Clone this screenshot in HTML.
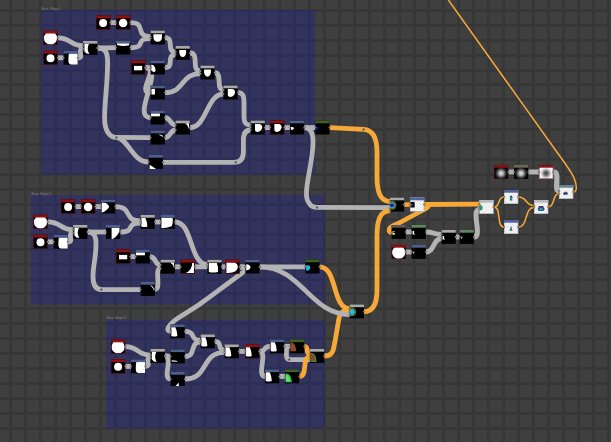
<!DOCTYPE html>
<html><head><meta charset="utf-8"><title>Graph</title>
<style>html,body{margin:0;padding:0;background:#3f3f3f;overflow:hidden}svg{display:block}text{font-family:"Liberation Sans",sans-serif}</style></head>
<body>
<svg width="611" height="442" viewBox="0 0 611 442">
<defs>
<pattern id="grid" width="14.925" height="14.925" patternUnits="userSpaceOnUse" x="9.7" y="8.9"><rect width="14.925" height="14.925" fill="#3f3f3f"/><rect width="2.7" height="14.925" fill="#373737"/><rect width="14.925" height="2.7" fill="#373737"/></pattern>
<radialGradient id="rg1" cx="0.5" cy="0.5" r="0.5"><stop offset="0" stop-color="#e6e6e6"/><stop offset="0.3" stop-color="#b4b4b4"/><stop offset="0.6" stop-color="#4a4a4a"/><stop offset="0.85" stop-color="#0c0c0c"/><stop offset="1" stop-color="#000"/></radialGradient>
<radialGradient id="rg2" cx="0.5" cy="0.5" r="0.5"><stop offset="0" stop-color="#3a3a3a"/><stop offset="0.3" stop-color="#6e6e6e"/><stop offset="0.6" stop-color="#c8c8c8"/><stop offset="0.85" stop-color="#f6f6f6"/><stop offset="1" stop-color="#fff"/></radialGradient>
<pattern id="chk" width="3" height="3" patternUnits="userSpaceOnUse"><rect width="3" height="3" fill="#fdfdfd"/><rect width="1.5" height="1.5" fill="#e2e2e2"/><rect x="1.5" y="1.5" width="1.5" height="1.5" fill="#e2e2e2"/></pattern>
</defs>
<rect width="611" height="442" fill="#3f3f3f"/>
<g fill="#373737" shape-rendering="crispEdges"><rect x="-6" y="0" width="3" height="442"/><rect x="9" y="0" width="3" height="442"/><rect x="24" y="0" width="3" height="442"/><rect x="39" y="0" width="3" height="442"/><rect x="54" y="0" width="3" height="442"/><rect x="69" y="0" width="3" height="442"/><rect x="84" y="0" width="3" height="442"/><rect x="99" y="0" width="3" height="442"/><rect x="114" y="0" width="3" height="442"/><rect x="129" y="0" width="3" height="442"/><rect x="144" y="0" width="3" height="442"/><rect x="159" y="0" width="3" height="442"/><rect x="174" y="0" width="3" height="442"/><rect x="189" y="0" width="3" height="442"/><rect x="203" y="0" width="3" height="442"/><rect x="218" y="0" width="3" height="442"/><rect x="233" y="0" width="3" height="442"/><rect x="248" y="0" width="3" height="442"/><rect x="263" y="0" width="3" height="442"/><rect x="278" y="0" width="3" height="442"/><rect x="293" y="0" width="3" height="442"/><rect x="308" y="0" width="3" height="442"/><rect x="323" y="0" width="3" height="442"/><rect x="338" y="0" width="3" height="442"/><rect x="353" y="0" width="3" height="442"/><rect x="368" y="0" width="3" height="442"/><rect x="383" y="0" width="3" height="442"/><rect x="398" y="0" width="3" height="442"/><rect x="413" y="0" width="3" height="442"/><rect x="427" y="0" width="3" height="442"/><rect x="442" y="0" width="3" height="442"/><rect x="457" y="0" width="3" height="442"/><rect x="472" y="0" width="3" height="442"/><rect x="487" y="0" width="3" height="442"/><rect x="502" y="0" width="3" height="442"/><rect x="517" y="0" width="3" height="442"/><rect x="532" y="0" width="3" height="442"/><rect x="547" y="0" width="3" height="442"/><rect x="562" y="0" width="3" height="442"/><rect x="577" y="0" width="3" height="442"/><rect x="592" y="0" width="3" height="442"/><rect x="607" y="0" width="3" height="442"/><rect x="0" y="-6" width="611" height="3"/><rect x="0" y="9" width="611" height="3"/><rect x="0" y="24" width="611" height="3"/><rect x="0" y="39" width="611" height="3"/><rect x="0" y="54" width="611" height="3"/><rect x="0" y="69" width="611" height="3"/><rect x="0" y="83" width="611" height="3"/><rect x="0" y="98" width="611" height="3"/><rect x="0" y="113" width="611" height="3"/><rect x="0" y="128" width="611" height="3"/><rect x="0" y="143" width="611" height="3"/><rect x="0" y="158" width="611" height="3"/><rect x="0" y="173" width="611" height="3"/><rect x="0" y="188" width="611" height="3"/><rect x="0" y="203" width="611" height="3"/><rect x="0" y="218" width="611" height="3"/><rect x="0" y="233" width="611" height="3"/><rect x="0" y="248" width="611" height="3"/><rect x="0" y="263" width="611" height="3"/><rect x="0" y="278" width="611" height="3"/><rect x="0" y="292" width="611" height="3"/><rect x="0" y="307" width="611" height="3"/><rect x="0" y="322" width="611" height="3"/><rect x="0" y="337" width="611" height="3"/><rect x="0" y="352" width="611" height="3"/><rect x="0" y="367" width="611" height="3"/><rect x="0" y="382" width="611" height="3"/><rect x="0" y="397" width="611" height="3"/><rect x="0" y="412" width="611" height="3"/><rect x="0" y="427" width="611" height="3"/><rect x="0" y="442" width="611" height="3"/></g>
<rect x="41" y="10" width="274.4" height="164.7" fill="#1a1e9e" fill-opacity="0.33"/>
<text x="41.5" y="9.8" font-size="3.0" fill="#868686" font-family="Liberation Sans, sans-serif">Basic Shape 1</text>
<rect x="31" y="195" width="294.0" height="109.4" fill="#1a1e9e" fill-opacity="0.33"/>
<text x="31.5" y="194.8" font-size="3.0" fill="#868686" font-family="Liberation Sans, sans-serif">Basic Shape 2</text>
<rect x="106" y="319.4" width="219.0" height="109.2" fill="#1a1e9e" fill-opacity="0.33"/>
<text x="106.5" y="319.2" font-size="3.0" fill="#868686" font-family="Liberation Sans, sans-serif">Basic Shape 3</text>
<g fill="none" stroke-linecap="butt" stroke-linejoin="round">
<path d="M57.8 37.8 C71.8 37.8 69.2 45.8 83.2 45.8" stroke="#b3b3b3" stroke-width="4.8"/>
<path d="M57.8 57.8 C60.8 57.8 60.6 57.8 63.6 57.8" stroke="#b3b3b3" stroke-width="4.8"/>
<path d="M78.0 57.8 C85.0 57.8 76.2 49.0 83.2 49.0" stroke="#b3b3b3" stroke-width="4.8"/>
<path d="M97.6 48.0 C106.8 48.0 106.8 47.6 116.0 47.6" stroke="#b3b3b3" stroke-width="4.8"/>
<path d="M97.6 48 C105 48 107.6 52 107.6 62 C107.6 85 104.6 100 104.6 118 C104.6 130 109 137.4 116.4 137.4 L150.6 137.6" stroke="#b3b3b3" stroke-width="4.8"/>
<path d="M116.4 137.6 C128 137.6 132 162 148.6 162" stroke="#b3b3b3" stroke-width="4.8"/>
<path d="M110.4 22.6 C113.4 22.6 113.0 22.6 116.0 22.6" stroke="#b3b3b3" stroke-width="4.8"/>
<path d="M130.4 22.6 C147.4 22.6 133.6 36.4 150.6 36.4" stroke="#b3b3b3" stroke-width="4.8"/>
<path d="M130.4 47.6 C147.4 47.6 133.6 38.6 150.6 38.6" stroke="#b3b3b3" stroke-width="4.8"/>
<path d="M145.4 67.6 C148.4 67.6 147.6 67.6 150.6 67.6" stroke="#b3b3b3" stroke-width="4.8"/>
<path d="M145.4 67.6 C160.4 67.6 135.6 92.6 150.6 92.6" stroke="#b3b3b3" stroke-width="4.8"/>
<path d="M145.4 67.6 C165.4 67.6 130.6 117.6 150.6 117.6" stroke="#b3b3b3" stroke-width="4.8"/>
<path d="M165.0 37.6 C175.0 37.6 165.6 52.0 175.6 52.0" stroke="#b3b3b3" stroke-width="4.8"/>
<path d="M165.0 67.6 C175.0 67.6 165.6 54.6 175.6 54.6" stroke="#b3b3b3" stroke-width="4.8"/>
<path d="M190.0 53.0 C200.0 53.0 190.4 71.0 200.4 71.0" stroke="#b3b3b3" stroke-width="4.8"/>
<path d="M165.0 92.6 C185.0 92.6 180.4 73.6 200.4 73.6" stroke="#b3b3b3" stroke-width="4.8"/>
<path d="M214.8 72.6 C222.8 72.6 215.4 90.0 223.4 90.0" stroke="#b3b3b3" stroke-width="4.8"/>
<path d="M190.0 127.6 C206.7 127.6 206.7 94.0 223.4 94.0" stroke="#b3b3b3" stroke-width="4.8"/>
<path d="M165.0 117.6 C171.0 117.6 169.6 125.0 175.6 125.0" stroke="#b3b3b3" stroke-width="4.8"/>
<path d="M165.0 137.6 C171.0 137.6 169.6 130.0 175.6 130.0" stroke="#b3b3b3" stroke-width="4.8"/>
<path d="M238 92.6 C243 92.6 244 96 244 103 L244 117 C244 123 246 125 250.6 125" stroke="#b3b3b3" stroke-width="4.8"/>
<path d="M163 162.3 L234 162.3 C240.5 162.3 243.4 159 243.4 152 L243.4 140 C243.4 133 246 130 250.6 130" stroke="#b3b3b3" stroke-width="4.8"/>
<path d="M265.0 127.6 C268.0 127.6 267.0 127.6 270.0 127.6" stroke="#b3b3b3" stroke-width="4.8"/>
<path d="M284.4 127.6 C287.4 127.6 287.0 127.6 290.0 127.6" stroke="#b3b3b3" stroke-width="4.8"/>
<path d="M304.4 127.6 C309.9 127.6 309.9 127.6 315.4 127.6" stroke="#b3b3b3" stroke-width="4.8"/>
<path d="M304.4 127.6 C314 127.6 314 140 312 155 C309 178 303 196 309 203 C311 206.4 314 207.4 317 207.4 L390 207.6" stroke="#b3b3b3" stroke-width="4.8"/>
<path d="M47.8 221.8 C61.8 221.8 59.2 229.8 73.2 229.8" stroke="#b3b3b3" stroke-width="4.8"/>
<path d="M47.8 241.8 C50.8 241.8 50.6 241.8 53.6 241.8" stroke="#b3b3b3" stroke-width="4.8"/>
<path d="M68.0 241.8 C75.0 241.8 66.2 233.0 73.2 233.0" stroke="#b3b3b3" stroke-width="4.8"/>
<path d="M87.6 232.0 C96.8 232.0 96.8 232.0 106.0 232.0" stroke="#b3b3b3" stroke-width="4.8"/>
<path d="M88 232 C94 232 96 236 96 244 C96 258 93 266 93 276 C93 285 96 289.6 101.4 289.6 L140.6 289.6" stroke="#b3b3b3" stroke-width="4.8"/>
<path d="M75.4 206.6 C78.4 206.6 78.0 206.6 81.0 206.6" stroke="#b3b3b3" stroke-width="4.8"/>
<path d="M95.4 206.6 C98.4 206.6 98.0 206.6 101.0 206.6" stroke="#b3b3b3" stroke-width="4.8"/>
<path d="M115.4 206.6 C133.4 206.6 122.6 221.0 140.6 221.0" stroke="#b3b3b3" stroke-width="4.8"/>
<path d="M120.4 232.0 C136.4 232.0 124.6 223.0 140.6 223.0" stroke="#b3b3b3" stroke-width="4.8"/>
<path d="M155.0 222.0 C158.0 222.0 157.6 222.0 160.6 222.0" stroke="#b3b3b3" stroke-width="4.8"/>
<path d="M175.0 222.0 C193.0 222.0 189.4 264.5 207.4 264.5" stroke="#b3b3b3" stroke-width="4.8"/>
<path d="M130.4 256.6 C133.4 256.6 132.6 256.6 135.6 256.6" stroke="#b3b3b3" stroke-width="4.8"/>
<path d="M150.0 256.6 C157.0 256.6 153.6 265.0 160.6 265.0" stroke="#b3b3b3" stroke-width="4.8"/>
<path d="M155.0 289.0 C162.0 289.0 153.6 268.5 160.6 268.5" stroke="#b3b3b3" stroke-width="4.8"/>
<path d="M175.0 266.8 C178.0 266.8 177.6 266.8 180.6 266.8" stroke="#b3b3b3" stroke-width="4.8"/>
<path d="M195.0 266.8 C201.2 266.8 201.2 266.8 207.4 266.8" stroke="#b3b3b3" stroke-width="4.8"/>
<path d="M221.8 266.8 C224.8 266.8 222.4 266.8 225.4 266.8" stroke="#b3b3b3" stroke-width="4.8"/>
<path d="M239.8 266.8 C242.8 266.8 242.4 266.8 245.4 266.8" stroke="#b3b3b3" stroke-width="4.8"/>
<path d="M259.8 266.8 C282.6 266.8 282.6 266.8 305.4 266.8" stroke="#b3b3b3" stroke-width="4.8"/>
<path d="M240 267 C249 267 246 270 240 274.5 C232 280.5 215 293 200 304 C190 311 180 316 174 321 C169.2 325 164.6 331.2 170.6 331.4" stroke="#b3b3b3" stroke-width="4.8"/>
<path d="M125.4 346.6 C139.4 346.6 136.6 355.2 150.6 355.2" stroke="#b3b3b3" stroke-width="4.8"/>
<path d="M125.4 366.4 C128.4 366.4 128.0 366.4 131.0 366.4" stroke="#b3b3b3" stroke-width="4.8"/>
<path d="M145.4 366.4 C152.4 366.4 143.6 358.0 150.6 358.0" stroke="#b3b3b3" stroke-width="4.8"/>
<path d="M165.0 356.0 C168.0 356.0 167.6 356.4 170.6 356.4" stroke="#b3b3b3" stroke-width="4.8"/>
<path d="M165.0 356.0 C174.0 356.0 161.6 379.0 170.6 379.0" stroke="#b3b3b3" stroke-width="4.8"/>
<path d="M185.0 331.4 C197.0 331.4 188.6 340.2 200.6 340.2" stroke="#b3b3b3" stroke-width="4.8"/>
<path d="M185.0 356.4 C197.0 356.4 188.6 342.2 200.6 342.2" stroke="#b3b3b3" stroke-width="4.8"/>
<path d="M215.0 341.4 C223.0 341.4 216.6 350.2 224.6 350.2" stroke="#b3b3b3" stroke-width="4.8"/>
<path d="M185.0 379.0 C209.0 379.0 200.6 352.4 224.6 352.4" stroke="#b3b3b3" stroke-width="4.8"/>
<path d="M239.0 351.4 C242.0 351.4 242.0 351.4 245.0 351.4" stroke="#b3b3b3" stroke-width="4.8"/>
<path d="M259.4 351.4 C266.4 351.4 263.0 346.4 270.0 346.4" stroke="#b3b3b3" stroke-width="4.8"/>
<path d="M259.4 351.4 C268.4 351.4 256.0 376.4 265.0 376.4" stroke="#b3b3b3" stroke-width="4.8"/>
<path d="M284.4 346.4 C287.4 346.4 287.0 346.4 290.0 346.4" stroke="#b3b3b3" stroke-width="4.8"/>
<path d="M284.4 346.4 L286.4 346.4 L286.4 355 C286.4 358 287.4 359.6 289.6 359.6 L310 359.6" stroke="#b3b3b3" stroke-width="4.8"/>
<path d="M279.4 376.4 C282.4 376.4 282.0 376.4 285.0 376.4" stroke="#b3b3b3" stroke-width="4.8"/>
<path d="M304.4 346.4 C309.4 346.4 305.0 354.0 310.0 354.0" stroke="#f6a838" stroke-width="4.8"/>
<path d="M299.4 376.4 C308.4 376.4 301.0 357.0 310.0 357.0" stroke="#f6a838" stroke-width="4.8"/>
<path d="M329.6 127.6 L363.6 129.4 C373 130 377 138 377 152 L377 176 C377 192 380 201 390 201.6" stroke="#f6a838" stroke-width="4.8"/>
<path d="M364 311.6 C373 311.6 377 304 377 290 L377 236 C377 220 380 211 390 210.6" stroke="#f6a838" stroke-width="4.8"/>
<path d="M319.6 266.8 C337.6 266.8 331.8 308.8 349.8 308.8" stroke="#f6a838" stroke-width="4.8"/>
<path d="M324.2 356 C329.5 356 332 354 333.2 350 C335 343 337 330 338.8 319 C340 312.5 343 309.5 349.8 309.3" stroke="#f6a838" stroke-width="4.8"/>
<path d="M259.8 266.8 C301.8 266.8 309.8 314.6 349.8 314.6" stroke="#b3b3b3" stroke-width="4.8"/>
<path d="M403.8 204.6 C406.9 204.6 406.9 204.6 410.0 204.6" stroke="#f6a838" stroke-width="4.4"/>
<path d="M424.4 204.5 L479.4 204.2" stroke="#f6a838" stroke-width="4.8"/>
<path d="M424.4 204.8 C430 205 429 207 424 209.5 L400 222.5 C394 225.6 389.2 227 389.2 229.8 C389.2 232 390 232.4 391.8 232.4" stroke="#f6a838" stroke-width="4.8"/>
<path d="M405.8 232.0 C408.8 232.0 408.6 232.0 411.6 232.0" stroke="#b3b3b3" stroke-width="4.8"/>
<path d="M405.8 252.0 C408.8 252.0 408.6 252.0 411.6 252.0" stroke="#b3b3b3" stroke-width="4.8"/>
<path d="M455.8 237.0 C458.8 237.0 456.6 237.0 459.6 237.0" stroke="#b3b3b3" stroke-width="4.8"/>
<path d="M426.0 232.0 C434.0 232.0 433.6 234.5 441.6 234.5" stroke="#b3b3b3" stroke-width="5"/>
<path d="M426.0 252.0 C435.0 252.0 432.6 238.5 441.6 238.5" stroke="#b3b3b3" stroke-width="5"/>
<path d="M474.0 237.0 C483.0 237.0 470.4 209.4 479.4 209.4" stroke="#b3b3b3" stroke-width="5"/>
<path d="M508.4 172.0 C511.4 172.0 511.0 172.0 514.0 172.0" stroke="#b3b3b3" stroke-width="4.8"/>
<path d="M528.4 172.0 C533.7 172.0 533.7 172.0 539.0 172.0" stroke="#b3b3b3" stroke-width="5"/>
<path d="M553.4 172 C557.5 172 557 176 556.8 182 L556.6 187.6 C556.6 190.4 557.4 190.8 559 190.8" stroke="#b3b3b3" stroke-width="5.2"/>
<path d="M493.8 207.0 C500.8 207.0 497.0 197.0 504.0 197.0" stroke="#f6a838" stroke-width="1.5"/>
<path d="M493.8 207.0 C501.8 207.0 496.0 227.0 504.0 227.0" stroke="#f6a838" stroke-width="1.5"/>
<path d="M518.4 197.0 C527.4 197.0 525.0 205.6 534.0 205.6" stroke="#f6a838" stroke-width="1.5"/>
<path d="M518.4 227.0 C528.4 227.0 524.0 207.6 534.0 207.6" stroke="#f6a838" stroke-width="1.5"/>
<path d="M548.4 206.8 C555.4 206.8 552.0 193.6 559.0 193.6" stroke="#f6a838" stroke-width="1.5"/>
<path d="M573.4 192 C577 192 577.4 186 574 178 C572 173 565 163 555.4 150 L448.4 0" stroke="#f6a838" stroke-width="1.5"/>
</g>
<circle cx="116.4" cy="137.6" r="1.0" fill="#444" stroke="#777" stroke-width="0.4"/>
<circle cx="235.7" cy="162.3" r="1.0" fill="#444" stroke="#777" stroke-width="0.4"/>
<circle cx="317" cy="207.4" r="1.0" fill="#444" stroke="#777" stroke-width="0.4"/>
<circle cx="101.4" cy="289.6" r="1.0" fill="#444" stroke="#777" stroke-width="0.4"/>
<circle cx="289.2" cy="359.6" r="1.0" fill="#444" stroke="#777" stroke-width="0.4"/>
<circle cx="363.6" cy="129.4" r="1.0" fill="#444" stroke="#777" stroke-width="0.4"/>
<g><rect x="43.40" y="30.80" width="14.2" height="13.9" fill="#000"/>
<svg x="43.40" y="30.80" width="14.2" height="13.9" viewBox="43.40 30.80 14.2 13.9"><circle cx="50.50" cy="38.10" r="6.6" fill="#fff"/></svg>
<rect x="43.40" y="30.80" width="14.2" height="2.7" fill="#8c1216"/>
<rect x="43.60" y="31.00" width="13.799999999999999" height="13.5" fill="none" stroke="#6a1010" stroke-width="0.5"/>
</g>
<g><rect x="43.40" y="50.80" width="14.2" height="13.9" fill="#000"/>
<svg x="43.40" y="50.80" width="14.2" height="13.9" viewBox="43.40 50.80 14.2 13.9"><circle cx="50.50" cy="58.20" r="4.0" fill="#fff"/></svg>
<rect x="43.40" y="50.80" width="14.2" height="2.7" fill="#8c1216"/>
<rect x="43.60" y="51.00" width="13.799999999999999" height="13.5" fill="none" stroke="#6a1010" stroke-width="0.5"/>
</g>
<g><rect x="63.60" y="50.80" width="14.2" height="13.9" fill="#000"/>
<svg x="63.60" y="50.80" width="14.2" height="13.9" viewBox="63.60 50.80 14.2 13.9"><path d="M69.00 53.50 H77.80 V64.70 H72.00 Q68.40 64.70 68.40 60.90 Q68.40 54.50 69.00 53.50 Z" fill="#fff"/></svg>
<rect x="63.60" y="50.80" width="14.2" height="2.7" fill="#4d5f8f"/>
</g>
<g><rect x="83.20" y="41.00" width="14.2" height="13.9" fill="#000"/>
<svg x="83.20" y="41.00" width="14.2" height="13.9" viewBox="83.20 41.00 14.2 13.9"><path d="M84.40 43.70 H89.00 Q86.40 48.70 89.20 53.90 Q86.20 53.90 84.40 51.40 Z" fill="#fff"/></svg>
<rect x="83.20" y="41.00" width="14.2" height="2.7" fill="#a9a9a9"/>
</g>
<g><rect x="96.00" y="15.60" width="14.2" height="13.9" fill="#000"/>
<svg x="96.00" y="15.60" width="14.2" height="13.9" viewBox="96.00 15.60 14.2 13.9"><circle cx="103.10" cy="23.00" r="4.0" fill="#fff"/></svg>
<rect x="96.00" y="15.60" width="14.2" height="2.7" fill="#8c1216"/>
<rect x="96.20" y="15.80" width="13.799999999999999" height="13.5" fill="none" stroke="#6a1010" stroke-width="0.5"/>
</g>
<g><rect x="116.00" y="15.60" width="14.2" height="13.9" fill="#000"/>
<svg x="116.00" y="15.60" width="14.2" height="13.9" viewBox="116.00 15.60 14.2 13.9"><circle cx="123.10" cy="23.00" r="4.3" fill="#fff"/></svg>
<rect x="116.00" y="15.60" width="14.2" height="2.7" fill="#8c1216"/>
<rect x="116.20" y="15.80" width="13.799999999999999" height="13.5" fill="none" stroke="#6a1010" stroke-width="0.5"/>
</g>
<g><rect x="116.00" y="40.60" width="14.2" height="13.9" fill="#000"/>
<svg x="116.00" y="40.60" width="14.2" height="13.9" viewBox="116.00 40.60 14.2 13.9"><path d="M117.00 43.30 H129.20 V45.30 Q123.10 46.70 117.00 44.90 Z" fill="#fff"/></svg>
<rect x="116.00" y="40.60" width="14.2" height="2.7" fill="#4d5f8f"/>
</g>
<g><rect x="131.00" y="60.60" width="14.2" height="13.9" fill="#000"/>
<svg x="131.00" y="60.60" width="14.2" height="13.9" viewBox="131.00 60.60 14.2 13.9"><rect x="134.00" y="65.90" width="8.2" height="4.4" fill="#fff"/></svg>
<rect x="131.00" y="60.60" width="14.2" height="2.7" fill="#8c1216"/>
<rect x="131.20" y="60.80" width="13.799999999999999" height="13.5" fill="none" stroke="#6a1010" stroke-width="0.5"/>
</g>
<g><rect x="150.60" y="30.60" width="14.2" height="13.9" fill="#000"/>
<svg x="150.60" y="30.60" width="14.2" height="13.9" viewBox="150.60 30.60 14.2 13.9"><path d="M153.40 34.30 H162.00 V36.90 Q161.90 41.30 157.70 41.80 Q153.50 41.30 153.40 36.90 Z" fill="#fff"/></svg>
<rect x="150.60" y="30.60" width="14.2" height="2.7" fill="#a9a9a9"/>
</g>
<g><rect x="175.60" y="46.00" width="14.2" height="13.9" fill="#000"/>
<svg x="175.60" y="46.00" width="14.2" height="13.9" viewBox="175.60 46.00 14.2 13.9"><path d="M179.30 49.90 H186.10 V52.70 Q185.70 56.70 182.70 57.10 Q179.70 56.70 179.30 52.70 Z" fill="#fff"/></svg>
<rect x="175.60" y="46.00" width="14.2" height="2.7" fill="#a9a9a9"/>
</g>
<g><rect x="200.40" y="65.60" width="14.2" height="13.9" fill="#000"/>
<svg x="200.40" y="65.60" width="14.2" height="13.9" viewBox="200.40 65.60 14.2 13.9"><path d="M204.10 69.50 H210.90 V72.30 Q210.50 76.30 207.50 76.70 Q204.50 76.30 204.10 72.30 Z" fill="#fff"/></svg>
<rect x="200.40" y="65.60" width="14.2" height="2.7" fill="#a9a9a9"/>
</g>
<g><rect x="150.60" y="60.60" width="14.2" height="13.9" fill="#000"/>
<svg x="150.60" y="60.60" width="14.2" height="13.9" viewBox="150.60 60.60 14.2 13.9"><path d="M151.20 64.80 Q154.10 64.30 155.20 68.30 Q156.60 71.30 153.60 72.30 L151.20 70.30 Z" fill="#fff"/></svg>
<rect x="150.60" y="60.60" width="14.2" height="2.7" fill="#4d5f8f"/>
</g>
<g><rect x="150.60" y="85.60" width="14.2" height="13.9" fill="#000"/>
<svg x="150.60" y="85.60" width="14.2" height="13.9" viewBox="150.60 85.60 14.2 13.9"><rect x="151.40" y="88.90" width="3.6" height="5.6" fill="#fff"/></svg>
<rect x="150.60" y="85.60" width="14.2" height="2.7" fill="#4d5f8f"/>
</g>
<g><rect x="150.60" y="110.60" width="14.2" height="13.9" fill="#000"/>
<svg x="150.60" y="110.60" width="14.2" height="13.9" viewBox="150.60 110.60 14.2 13.9"><rect x="150.90" y="113.40" width="9" height="2.9" fill="#fff"/></svg>
<rect x="150.60" y="110.60" width="14.2" height="2.7" fill="#4d5f8f"/>
</g>
<g><rect x="150.60" y="130.60" width="14.2" height="13.9" fill="#000"/>
<svg x="150.60" y="130.60" width="14.2" height="13.9" viewBox="150.60 130.60 14.2 13.9"><path d="M158.60 134.70 Q162.60 133.90 163.60 137.30 L162.20 136.50 Q160.60 135.10 158.60 134.70 Z" fill="#fff"/></svg>
<rect x="150.60" y="130.60" width="14.2" height="2.7" fill="#4d5f8f"/>
</g>
<g><rect x="175.60" y="120.60" width="14.2" height="13.9" fill="#000"/>
<svg x="175.60" y="120.60" width="14.2" height="13.9" viewBox="175.60 120.60 14.2 13.9"><path d="M185.10 123.30 H189.00 V128.90 Q188.20 124.90 185.10 123.30 Z" fill="#fff"/></svg>
<rect x="175.60" y="120.60" width="14.2" height="2.7" fill="#a9a9a9"/>
</g>
<g><rect x="148.60" y="155.00" width="14.2" height="13.9" fill="#000"/>
<svg x="148.60" y="155.00" width="14.2" height="13.9" viewBox="148.60 155.00 14.2 13.9"><path d="M149.60 164.70 Q152.60 166.70 156.20 168.90 H149.60 Z" fill="#fff"/></svg>
<rect x="148.60" y="155.00" width="14.2" height="2.7" fill="#4d5f8f"/>
</g>
<g><rect x="223.40" y="85.60" width="14.2" height="13.9" fill="#000"/>
<svg x="223.40" y="85.60" width="14.2" height="13.9" viewBox="223.40 85.60 14.2 13.9"><path d="M227.80 89.10 H232.40 Q235.20 89.90 235.00 92.50 Q234.40 96.30 230.40 97.10 Q228.20 97.10 227.80 95.30 Z" fill="#fff"/></svg>
<rect x="223.40" y="85.60" width="14.2" height="2.7" fill="#a9a9a9"/>
</g>
<g><rect x="250.60" y="120.60" width="14.2" height="13.9" fill="#000"/>
<svg x="250.60" y="120.60" width="14.2" height="13.9" viewBox="250.60 120.60 14.2 13.9"><path d="M255.00 124.10 H259.60 Q262.40 124.90 262.20 127.50 Q261.60 131.30 257.60 132.10 Q255.40 132.10 255.00 130.30 Z" fill="#fff"/></svg>
<rect x="250.60" y="120.60" width="14.2" height="2.7" fill="#a9a9a9"/>
</g>
<g><rect x="270.00" y="120.60" width="14.2" height="13.9" fill="#000"/>
<svg x="270.00" y="120.60" width="14.2" height="13.9" viewBox="270.00 120.60 14.2 13.9"><path d="M274.40 124.10 H279.00 Q281.80 124.90 281.60 127.50 Q281.00 131.30 277.00 132.10 Q274.80 132.10 274.40 130.30 Z" fill="#fff"/></svg>
<rect x="270.00" y="120.60" width="14.2" height="2.7" fill="#8c1216"/>
<rect x="270.20" y="120.80" width="13.799999999999999" height="13.5" fill="none" stroke="#6a1010" stroke-width="0.5"/>
</g>
<g><rect x="290.00" y="120.60" width="14.2" height="13.9" fill="#000"/>
<svg x="290.00" y="120.60" width="14.2" height="13.9" viewBox="290.00 120.60 14.2 13.9"><path d="M291.00 126.70 Q294.00 126.70 294.20 128.30 Q293.00 130.30 291.00 130.10 Z" fill="#fff"/></svg>
<rect x="290.00" y="120.60" width="14.2" height="2.7" fill="#4d5f8f"/>
</g>
<g><rect x="315.40" y="120.60" width="14.2" height="13.9" fill="#000"/>
<svg x="315.40" y="120.60" width="14.2" height="13.9" viewBox="315.40 120.60 14.2 13.9"><path d="M316.40 126.30 L319.00 127.90 L316.80 130.30 Z" fill="#1414c8"/></svg>
<rect x="315.40" y="120.60" width="14.2" height="2.7" fill="#3f5f25"/>
</g>
<g><rect x="33.40" y="214.80" width="14.2" height="13.9" fill="#000"/>
<svg x="33.40" y="214.80" width="14.2" height="13.9" viewBox="33.40 214.80 14.2 13.9"><circle cx="40.50" cy="222.10" r="6.6" fill="#fff"/></svg>
<rect x="33.40" y="214.80" width="14.2" height="2.7" fill="#8c1216"/>
<rect x="33.60" y="215.00" width="13.799999999999999" height="13.5" fill="none" stroke="#6a1010" stroke-width="0.5"/>
</g>
<g><rect x="33.40" y="234.80" width="14.2" height="13.9" fill="#000"/>
<svg x="33.40" y="234.80" width="14.2" height="13.9" viewBox="33.40 234.80 14.2 13.9"><circle cx="40.50" cy="242.20" r="4.0" fill="#fff"/></svg>
<rect x="33.40" y="234.80" width="14.2" height="2.7" fill="#8c1216"/>
<rect x="33.60" y="235.00" width="13.799999999999999" height="13.5" fill="none" stroke="#6a1010" stroke-width="0.5"/>
</g>
<g><rect x="53.60" y="234.80" width="14.2" height="13.9" fill="#000"/>
<svg x="53.60" y="234.80" width="14.2" height="13.9" viewBox="53.60 234.80 14.2 13.9"><path d="M59.00 237.50 H67.80 V248.70 H62.00 Q58.40 248.70 58.40 244.90 Q58.40 238.50 59.00 237.50 Z" fill="#fff"/></svg>
<rect x="53.60" y="234.80" width="14.2" height="2.7" fill="#4d5f8f"/>
</g>
<g><rect x="73.20" y="225.00" width="14.2" height="13.9" fill="#000"/>
<svg x="73.20" y="225.00" width="14.2" height="13.9" viewBox="73.20 225.00 14.2 13.9"><path d="M74.40 227.70 H79.00 Q76.40 232.70 79.20 237.90 Q76.20 237.90 74.40 235.40 Z" fill="#fff"/></svg>
<rect x="73.20" y="225.00" width="14.2" height="2.7" fill="#a9a9a9"/>
</g>
<g><rect x="61.00" y="199.60" width="14.2" height="13.9" fill="#000"/>
<svg x="61.00" y="199.60" width="14.2" height="13.9" viewBox="61.00 199.60 14.2 13.9"><circle cx="68.10" cy="207.00" r="4.0" fill="#fff"/></svg>
<rect x="61.00" y="199.60" width="14.2" height="2.7" fill="#8c1216"/>
<rect x="61.20" y="199.80" width="13.799999999999999" height="13.5" fill="none" stroke="#6a1010" stroke-width="0.5"/>
</g>
<g><rect x="81.00" y="199.60" width="14.2" height="13.9" fill="#000"/>
<svg x="81.00" y="199.60" width="14.2" height="13.9" viewBox="81.00 199.60 14.2 13.9"><circle cx="88.10" cy="207.00" r="4.3" fill="#fff"/></svg>
<rect x="81.00" y="199.60" width="14.2" height="2.7" fill="#8c1216"/>
<rect x="81.20" y="199.80" width="13.799999999999999" height="13.5" fill="none" stroke="#6a1010" stroke-width="0.5"/>
</g>
<g><rect x="101.00" y="199.60" width="14.2" height="13.9" fill="#000"/>
<svg x="101.00" y="199.60" width="14.2" height="13.9" viewBox="101.00 199.60 14.2 13.9"><path d="M101.60 202.60 L106.00 203.10 Q109.00 205.30 109.20 206.90 Q107.00 210.70 101.60 212.70 Z" fill="#fff"/></svg>
<rect x="101.00" y="199.60" width="14.2" height="2.7" fill="#4d5f8f"/>
</g>
<g><rect x="106.00" y="225.00" width="14.2" height="13.9" fill="#000"/>
<svg x="106.00" y="225.00" width="14.2" height="13.9" viewBox="106.00 225.00 14.2 13.9"><path d="M111.60 227.70 H119.50 V230.70 Q118.00 236.10 112.60 238.90 L111.60 238.90 Z" fill="#fff"/></svg>
<rect x="106.00" y="225.00" width="14.2" height="2.7" fill="#4d5f8f"/>
</g>
<g><rect x="116.00" y="249.60" width="14.2" height="13.9" fill="#000"/>
<svg x="116.00" y="249.60" width="14.2" height="13.9" viewBox="116.00 249.60 14.2 13.9"><rect x="119.00" y="254.90" width="8.2" height="4.4" fill="#fff"/></svg>
<rect x="116.00" y="249.60" width="14.2" height="2.7" fill="#8c1216"/>
<rect x="116.20" y="249.80" width="13.799999999999999" height="13.5" fill="none" stroke="#6a1010" stroke-width="0.5"/>
</g>
<g><rect x="135.60" y="249.60" width="14.2" height="13.9" fill="#000"/>
<svg x="135.60" y="249.60" width="14.2" height="13.9" viewBox="135.60 249.60 14.2 13.9"><rect x="135.90" y="252.40" width="9" height="2.9" fill="#fff"/></svg>
<rect x="135.60" y="249.60" width="14.2" height="2.7" fill="#4d5f8f"/>
</g>
<g><rect x="140.60" y="215.00" width="14.2" height="13.9" fill="#000"/>
<svg x="140.60" y="215.00" width="14.2" height="13.9" viewBox="140.60 215.00 14.2 13.9"><path d="M141.30 217.90 H145.40 Q147.20 221.70 147.40 226.50 Q144.00 227.70 141.30 226.50 Z" fill="#fff"/></svg>
<rect x="140.60" y="215.00" width="14.2" height="2.7" fill="#a9a9a9"/>
</g>
<g><rect x="160.60" y="215.00" width="14.2" height="13.9" fill="#000"/>
<svg x="160.60" y="215.00" width="14.2" height="13.9" viewBox="160.60 215.00 14.2 13.9"><path d="M161.40 217.70 H172.60 Q173.20 223.70 171.60 226.30 Q166.60 228.10 161.40 228.30 Z" fill="#fff"/></svg>
<rect x="160.60" y="215.00" width="14.2" height="2.7" fill="#4d5f8f"/>
</g>
<g><rect x="160.60" y="259.80" width="14.2" height="13.9" fill="#000"/>
<svg x="160.60" y="259.80" width="14.2" height="13.9" viewBox="160.60 259.80 14.2 13.9"><path d="M170.10 262.50 H174.00 V268.10 Q173.20 264.10 170.10 262.50 Z" fill="#fff"/></svg>
<rect x="160.60" y="259.80" width="14.2" height="2.7" fill="#a9a9a9"/>
</g>
<g><rect x="180.60" y="259.80" width="14.2" height="13.9" fill="#000"/>
<svg x="180.60" y="259.80" width="14.2" height="13.9" viewBox="180.60 259.80 14.2 13.9"><path d="M192.20 263.10 L194.00 263.10 L194.00 272.90 L186.00 272.90 Q192.00 270.50 192.20 263.10 Z" fill="#fff"/></svg>
<rect x="180.60" y="259.80" width="14.2" height="2.7" fill="#8c1216"/>
<rect x="180.80" y="260.00" width="13.799999999999999" height="13.5" fill="none" stroke="#6a1010" stroke-width="0.5"/>
</g>
<g><rect x="207.40" y="259.80" width="14.2" height="13.9" fill="#000"/>
<svg x="207.40" y="259.80" width="14.2" height="13.9" viewBox="207.40 259.80 14.2 13.9"><path d="M208.80 263.10 H216.80 Q218.80 267.50 218.00 272.10 Q212.40 273.10 208.80 272.10 Z" fill="#fff"/></svg>
<rect x="207.40" y="259.80" width="14.2" height="2.7" fill="#a9a9a9"/>
</g>
<g><rect x="225.40" y="259.80" width="14.2" height="13.9" fill="#000"/>
<svg x="225.40" y="259.80" width="14.2" height="13.9" viewBox="225.40 259.80 14.2 13.9"><path d="M226.40 262.50 H234.40 Q238.00 263.50 237.80 267.50 Q236.90 272.50 228.40 273.10 H226.40 Z" fill="#fff"/></svg>
<rect x="225.40" y="259.80" width="14.2" height="2.7" fill="#8c1216"/>
<rect x="225.60" y="260.00" width="13.799999999999999" height="13.5" fill="none" stroke="#6a1010" stroke-width="0.5"/>
</g>
<g><rect x="140.60" y="282.00" width="14.2" height="13.9" fill="#000"/>
<svg x="140.60" y="282.00" width="14.2" height="13.9" viewBox="140.60 282.00 14.2 13.9"><path d="M150.20 285.30 Q154.20 285.70 154.00 291.10 Q152.80 287.30 150.20 285.30 Z" fill="#fff"/></svg>
<rect x="140.60" y="282.00" width="14.2" height="2.7" fill="#4d5f8f"/>
</g>
<g><rect x="245.40" y="259.60" width="14.2" height="13.9" fill="#000"/>
<svg x="245.40" y="259.60" width="14.2" height="13.9" viewBox="245.40 259.60 14.2 13.9"><path d="M246.20 264.30 Q250.40 264.70 250.40 267.30 Q250.00 270.10 246.20 270.50 Z" fill="#fff"/></svg>
<rect x="245.40" y="259.60" width="14.2" height="2.7" fill="#4d5f8f"/>
</g>
<g><rect x="305.40" y="259.60" width="14.2" height="13.9" fill="#000"/>
<svg x="305.40" y="259.60" width="14.2" height="13.9" viewBox="305.40 259.60 14.2 13.9"><path d="M306.20 265.30 Q310.00 264.90 310.20 267.70 Q309.60 270.90 306.20 270.70 Z" fill="#12c4f4"/></svg>
<rect x="305.40" y="259.60" width="14.2" height="2.7" fill="#3f5f25"/>
</g>
<g><rect x="111.00" y="339.60" width="14.2" height="13.9" fill="#000"/>
<svg x="111.00" y="339.60" width="14.2" height="13.9" viewBox="111.00 339.60 14.2 13.9"><circle cx="118.10" cy="346.90" r="6.6" fill="#fff"/></svg>
<rect x="111.00" y="339.60" width="14.2" height="2.7" fill="#8c1216"/>
<rect x="111.20" y="339.80" width="13.799999999999999" height="13.5" fill="none" stroke="#6a1010" stroke-width="0.5"/>
</g>
<g><rect x="111.00" y="359.40" width="14.2" height="13.9" fill="#000"/>
<svg x="111.00" y="359.40" width="14.2" height="13.9" viewBox="111.00 359.40 14.2 13.9"><circle cx="118.10" cy="366.80" r="4.0" fill="#fff"/></svg>
<rect x="111.00" y="359.40" width="14.2" height="2.7" fill="#8c1216"/>
<rect x="111.20" y="359.60" width="13.799999999999999" height="13.5" fill="none" stroke="#6a1010" stroke-width="0.5"/>
</g>
<g><rect x="131.00" y="359.40" width="14.2" height="13.9" fill="#000"/>
<svg x="131.00" y="359.40" width="14.2" height="13.9" viewBox="131.00 359.40 14.2 13.9"><path d="M136.40 362.10 H145.20 V373.30 H139.40 Q135.80 373.30 135.80 369.50 Q135.80 363.10 136.40 362.10 Z" fill="#fff"/></svg>
<rect x="131.00" y="359.40" width="14.2" height="2.7" fill="#4d5f8f"/>
</g>
<g><rect x="150.60" y="349.00" width="14.2" height="13.9" fill="#000"/>
<svg x="150.60" y="349.00" width="14.2" height="13.9" viewBox="150.60 349.00 14.2 13.9"><path d="M151.80 351.70 H156.40 Q153.80 356.70 156.60 361.90 Q153.60 361.90 151.80 359.40 Z" fill="#fff"/></svg>
<rect x="150.60" y="349.00" width="14.2" height="2.7" fill="#a9a9a9"/>
</g>
<g><rect x="170.60" y="324.40" width="14.2" height="13.9" fill="#000"/>
<svg x="170.60" y="324.40" width="14.2" height="13.9" viewBox="170.60 324.40 14.2 13.9"><path d="M171.30 327.30 H175.40 Q177.20 331.10 177.40 335.90 Q174.00 337.10 171.30 335.90 Z" fill="#fff"/></svg>
<rect x="170.60" y="324.40" width="14.2" height="2.7" fill="#4d5f8f"/>
</g>
<g><rect x="170.60" y="349.40" width="14.2" height="13.9" fill="#000"/>
<svg x="170.60" y="349.40" width="14.2" height="13.9" viewBox="170.60 349.40 14.2 13.9"><path d="M171.60 360.30 L176.60 360.70 L177.60 361.70 L171.60 361.50 Z" fill="#fff"/></svg>
<rect x="170.60" y="349.40" width="14.2" height="2.7" fill="#4d5f8f"/>
</g>
<g><rect x="170.60" y="372.00" width="14.2" height="13.9" fill="#000"/>
<svg x="170.60" y="372.00" width="14.2" height="13.9" viewBox="170.60 372.00 14.2 13.9"><path d="M175.60 385.90 L178.60 382.70 L179.00 385.90 Z" fill="#fff"/></svg>
<rect x="170.60" y="372.00" width="14.2" height="2.7" fill="#4d5f8f"/>
</g>
<g><rect x="200.60" y="334.40" width="14.2" height="13.9" fill="#000"/>
<svg x="200.60" y="334.40" width="14.2" height="13.9" viewBox="200.60 334.40 14.2 13.9"><path d="M201.30 337.30 H205.40 Q207.20 341.10 207.40 345.90 Q204.00 347.10 201.30 345.90 Z" fill="#fff"/></svg>
<rect x="200.60" y="334.40" width="14.2" height="2.7" fill="#a9a9a9"/>
</g>
<g><rect x="224.60" y="344.40" width="14.2" height="13.9" fill="#000"/>
<svg x="224.60" y="344.40" width="14.2" height="13.9" viewBox="224.60 344.40 14.2 13.9"><path d="M225.30 347.30 H229.40 Q231.20 351.10 231.40 355.90 Q228.00 357.10 225.30 355.90 Z" fill="#fff"/></svg>
<rect x="224.60" y="344.40" width="14.2" height="2.7" fill="#a9a9a9"/>
</g>
<g><rect x="245.00" y="344.40" width="14.2" height="13.9" fill="#000"/>
<svg x="245.00" y="344.40" width="14.2" height="13.9" viewBox="245.00 344.40 14.2 13.9"><path d="M245.70 347.30 H249.80 Q251.60 351.10 251.80 355.90 Q248.40 357.10 245.70 355.90 Z" fill="#fff"/></svg>
<rect x="245.00" y="344.40" width="14.2" height="2.7" fill="#8c1216"/>
<rect x="245.20" y="344.60" width="13.799999999999999" height="13.5" fill="none" stroke="#6a1010" stroke-width="0.5"/>
</g>
<g><rect x="270.00" y="339.40" width="14.2" height="13.9" fill="#000"/>
<svg x="270.00" y="339.40" width="14.2" height="13.9" viewBox="270.00 339.40 14.2 13.9"><path d="M270.70 342.30 H274.80 Q276.60 346.10 276.80 350.90 Q273.40 352.10 270.70 350.90 Z" fill="#fff"/></svg>
<rect x="270.00" y="339.40" width="14.2" height="2.7" fill="#4d5f8f"/>
</g>
<g><rect x="290.00" y="339.40" width="14.2" height="13.9" fill="#000"/>
<svg x="290.00" y="339.40" width="14.2" height="13.9" viewBox="290.00 339.40 14.2 13.9"><path d="M290.40 342.40 H292.60 Q295.60 344.10 296.30 351.30 L290.40 351.30 Z" fill="#8b4a26"/></svg>
<rect x="290.00" y="339.40" width="14.2" height="2.7" fill="#3f5f25"/>
</g>
<g><rect x="265.00" y="369.40" width="14.2" height="13.9" fill="#000"/>
<svg x="265.00" y="369.40" width="14.2" height="13.9" viewBox="265.00 369.40 14.2 13.9"><path d="M265.70 372.30 H269.80 Q271.60 376.10 271.80 380.90 Q268.40 382.10 265.70 380.90 Z" fill="#fff"/></svg>
<rect x="265.00" y="369.40" width="14.2" height="2.7" fill="#4d5f8f"/>
</g>
<g><rect x="285.00" y="369.40" width="14.2" height="13.9" fill="#000"/>
<svg x="285.00" y="369.40" width="14.2" height="13.9" viewBox="285.00 369.40 14.2 13.9"><path d="M285.60 373.30 Q291.20 373.50 292.00 382.30 L285.60 382.30 Z" fill="#35c04a"/><path d="M285.60 374.50 Q289.20 374.90 290.00 381.50 L285.60 381.50 Z" fill="#5fe070"/></svg>
<rect x="285.00" y="369.40" width="14.2" height="2.7" fill="#3f5f25"/>
</g>
<g><rect x="310.00" y="349.00" width="14.2" height="13.9" fill="#000"/>
<svg x="310.00" y="349.00" width="14.2" height="13.9" viewBox="310.00 349.00 14.2 13.9"><path d="M310.60 352.50 Q316.20 352.70 316.60 362.10 L310.60 362.10 Z" fill="#2fa050"/><path d="M310.60 353.10 Q315.00 353.30 315.60 361.30 L310.60 361.30 Z" fill="#8a4a22"/></svg>
<rect x="310.00" y="349.00" width="14.2" height="2.7" fill="#a9a9a9"/>
</g>
<g><rect x="349.80" y="304.50" width="14.2" height="13.9" fill="#000"/>
<svg x="349.80" y="304.50" width="14.2" height="13.9" viewBox="349.80 304.50 14.2 13.9"><circle cx="351.80" cy="311.90" r="4.3" fill="#3aa53a"/><circle cx="351.80" cy="311.90" r="3.6" fill="#8a4a20"/><circle cx="351.80" cy="311.90" r="2.6" fill="#12c4f4"/></svg>
<rect x="349.80" y="304.50" width="14.2" height="2.7" fill="#a9a9a9"/>
</g>
<g><rect x="390.00" y="197.60" width="14.2" height="13.9" fill="#000"/>
<svg x="390.00" y="197.60" width="14.2" height="13.9" viewBox="390.00 197.60 14.2 13.9"><circle cx="391.90" cy="205.20" r="4.5" fill="#2fa03a"/><circle cx="391.90" cy="205.20" r="3.7" fill="#8a4a20"/><circle cx="391.90" cy="205.20" r="2.7" fill="#16b8e6"/><circle cx="391.90" cy="205.20" r="1.8" fill="#1010b8"/></svg>
<rect x="390.00" y="197.60" width="14.2" height="2.7" fill="#a9a9a9"/>
</g>
<g><rect x="410.00" y="197.60" width="14.2" height="13.9" fill="url(#chk)"/>
<rect x="410.20" y="197.80" width="13.799999999999999" height="13.5" fill="none" stroke="#8088a0" stroke-width="0.4"/>
<svg x="410.00" y="197.60" width="14.2" height="13.9" viewBox="410.00 197.60 14.2 13.9"><rect x="410.40" y="201.90" width="4.2" height="5.6" fill="#000"/><path d="M410.60 203.30 L412.60 204.70 L410.80 206.30 Z" fill="#18a0d0"/></svg>
<rect x="410.00" y="197.60" width="14.2" height="2.7" fill="#52629a"/>
</g>
<g><rect x="391.60" y="225.00" width="14.2" height="13.9" fill="#000"/>
<svg x="391.60" y="225.00" width="14.2" height="13.9" viewBox="391.60 225.00 14.2 13.9"><path d="M392.40 231.30 h2.2 v0.8 h-1.2 v0.8 h1.4 v1.8 h-2.4 z" fill="#e8e8e8"/></svg>
<rect x="391.60" y="225.00" width="14.2" height="2.7" fill="#5a5a5a"/>
</g>
<g><rect x="411.60" y="225.00" width="14.2" height="13.9" fill="#000"/>
<svg x="411.60" y="225.00" width="14.2" height="13.9" viewBox="411.60 225.00 14.2 13.9"><path d="M412.50 231.10 h1.6 v2.6 h0.9 v0.9 h-2.5 z" fill="#f4f4f4"/></svg>
<rect x="411.60" y="225.00" width="14.2" height="2.7" fill="#5c8a5c"/>
</g>
<g><rect x="391.60" y="245.00" width="14.2" height="13.9" fill="#000"/>
<svg x="391.60" y="245.00" width="14.2" height="13.9" viewBox="391.60 245.00 14.2 13.9"><circle cx="398.70" cy="252.30" r="6.6" fill="#fff"/></svg>
<rect x="391.60" y="245.00" width="14.2" height="2.7" fill="#8c1216"/>
<rect x="391.80" y="245.20" width="13.799999999999999" height="13.5" fill="none" stroke="#6a1010" stroke-width="0.5"/>
</g>
<g><rect x="411.60" y="245.00" width="14.2" height="13.9" fill="#000"/>
<svg x="411.60" y="245.00" width="14.2" height="13.9" viewBox="411.60 245.00 14.2 13.9"><path d="M412.50 251.70 h2.3 l-1.1 2.4 h-0.8 l0.8 -1.7 h-1.2 z" fill="#c8c8c8"/></svg>
<rect x="411.60" y="245.00" width="14.2" height="2.7" fill="#4d5f8f"/>
</g>
<g><rect x="441.60" y="230.00" width="14.2" height="13.9" fill="#000"/>
<svg x="441.60" y="230.00" width="14.2" height="13.9" viewBox="441.60 230.00 14.2 13.9"><path d="M442.50 236.10 h1.6 v2.6 h0.9 v0.9 h-2.5 z" fill="#f4f4f4"/></svg>
<rect x="441.60" y="230.00" width="14.2" height="2.7" fill="#a9a9a9"/>
</g>
<g><rect x="459.60" y="230.00" width="14.2" height="13.9" fill="#000"/>
<svg x="459.60" y="230.00" width="14.2" height="13.9" viewBox="459.60 230.00 14.2 13.9"><path d="M460.50 236.70 h2.3 l-1.1 2.4 h-0.8 l0.8 -1.7 h-1.2 z" fill="#c8c8c8"/></svg>
<rect x="459.60" y="230.00" width="14.2" height="2.7" fill="#5c8a5c"/>
</g>
<g><rect x="479.40" y="200.00" width="14.2" height="13.9" fill="url(#chk)"/>
<rect x="479.60" y="200.20" width="13.799999999999999" height="13.5" fill="none" stroke="#8088a0" stroke-width="0.4"/>
<svg x="479.40" y="200.00" width="14.2" height="13.9" viewBox="479.40 200.00 14.2 13.9"><circle cx="480.00" cy="207.70" r="2.6" fill="#2f9a3a"/><circle cx="479.80" cy="207.70" r="1.6" fill="#1890d0"/></svg>
<rect x="479.40" y="200.00" width="14.2" height="2.7" fill="#b9b9b9"/>
</g>
<g><rect x="504.00" y="190.00" width="14.2" height="13.9" fill="url(#chk)"/>
<rect x="504.20" y="190.20" width="13.799999999999999" height="13.5" fill="none" stroke="#8088a0" stroke-width="0.4"/>
<svg x="504.00" y="190.00" width="14.2" height="13.9" viewBox="504.00 190.00 14.2 13.9"><rect x="509.90" y="195.90" width="2.4" height="4.6" fill="#2a6a8a"/><rect x="510.50" y="197.30" width="1.4" height="2" fill="#30b050"/><rect x="510.70" y="195.70" width="1" height="1.2" fill="#203a9a"/></svg>
<rect x="504.00" y="190.00" width="14.2" height="2.7" fill="#52629a"/>
</g>
<g><rect x="504.00" y="220.00" width="14.2" height="13.9" fill="url(#chk)"/>
<rect x="504.20" y="220.20" width="13.799999999999999" height="13.5" fill="none" stroke="#8088a0" stroke-width="0.4"/>
<svg x="504.00" y="220.00" width="14.2" height="13.9" viewBox="504.00 220.00 14.2 13.9"><path d="M509.50 230.70 L511.10 225.70 L512.50 230.70 Z" fill="#2a6a8a"/><rect x="510.50" y="227.70" width="1.2" height="1.8" fill="#30b050"/></svg>
<rect x="504.00" y="220.00" width="14.2" height="2.7" fill="#52629a"/>
</g>
<g><rect x="534.00" y="200.00" width="14.2" height="13.9" fill="url(#chk)"/>
<rect x="534.20" y="200.20" width="13.799999999999999" height="13.5" fill="none" stroke="#8088a0" stroke-width="0.4"/>
<svg x="534.00" y="200.00" width="14.2" height="13.9" viewBox="534.00 200.00 14.2 13.9"><ellipse cx="541.10" cy="208.90" rx="3.4" ry="2.2" fill="#1f4fa8"/><ellipse cx="541.10" cy="209.10" rx="1.8" ry="1.2" fill="#30b060"/><rect x="538.70" y="206.10" width="4.8" height="1.2" fill="#333"/></svg>
<rect x="534.00" y="200.00" width="14.2" height="2.7" fill="#b9b9b9"/>
</g>
<g><rect x="559.00" y="185.00" width="14.2" height="13.9" fill="url(#chk)"/>
<rect x="559.20" y="185.20" width="13.799999999999999" height="13.5" fill="none" stroke="#8088a0" stroke-width="0.4"/>
<svg x="559.00" y="185.00" width="14.2" height="13.9" viewBox="559.00 185.00 14.2 13.9"><ellipse cx="565.50" cy="193.50" rx="2.4" ry="1.5" fill="#1f3fa0"/><rect x="564.70" y="191.70" width="2.4" height="1" fill="#a04020"/><rect x="564.70" y="193.90" width="2.4" height="0.8" fill="#30a050"/></svg>
<rect x="559.00" y="185.00" width="14.2" height="2.7" fill="#5f858c"/>
</g>
<g><rect x="494.00" y="165.00" width="14.2" height="13.9" fill="#000"/>
<svg x="494.00" y="165.00" width="14.2" height="13.9" viewBox="494.00 165.00 14.2 13.9"><circle cx="501.10" cy="173.30" r="7" fill="url(#rg1)"/></svg>
<rect x="494.00" y="165.00" width="14.2" height="2.7" fill="#8c1216"/>
<rect x="494.20" y="165.20" width="13.799999999999999" height="13.5" fill="none" stroke="#6a1010" stroke-width="0.5"/>
</g>
<g><rect x="514.00" y="165.00" width="14.2" height="13.9" fill="#000"/>
<svg x="514.00" y="165.00" width="14.2" height="13.9" viewBox="514.00 165.00 14.2 13.9"><circle cx="521.10" cy="173.30" r="7" fill="url(#rg1)"/></svg>
<rect x="514.00" y="165.00" width="14.2" height="2.7" fill="#6b6950"/>
</g>
<g><rect x="539.00" y="165.00" width="14.2" height="13.9" fill="#fff"/>
<svg x="539.00" y="165.00" width="14.2" height="13.9" viewBox="539.00 165.00 14.2 13.9"><circle cx="546.10" cy="173.30" r="7" fill="url(#rg2)"/></svg>
<rect x="539.00" y="165.00" width="14.2" height="2.7" fill="#8c1216"/>
<rect x="539.20" y="165.20" width="13.799999999999999" height="13.5" fill="none" stroke="#6a1010" stroke-width="0.5"/>
</g>
<circle cx="57.8" cy="37.8" r="0.95" fill="#b0b0b0" stroke="#333" stroke-width="0.4"/>
<circle cx="83.2" cy="45.8" r="0.95" fill="#b0b0b0" stroke="#333" stroke-width="0.4"/>
<circle cx="57.8" cy="57.8" r="0.95" fill="#b0b0b0" stroke="#333" stroke-width="0.4"/>
<circle cx="63.6" cy="57.8" r="0.95" fill="#b0b0b0" stroke="#333" stroke-width="0.4"/>
<circle cx="78.0" cy="57.8" r="0.95" fill="#b0b0b0" stroke="#333" stroke-width="0.4"/>
<circle cx="83.2" cy="49.0" r="0.95" fill="#b0b0b0" stroke="#333" stroke-width="0.4"/>
<circle cx="97.6" cy="48.0" r="0.95" fill="#b0b0b0" stroke="#333" stroke-width="0.4"/>
<circle cx="116.0" cy="47.6" r="0.95" fill="#b0b0b0" stroke="#333" stroke-width="0.4"/>
<circle cx="110.4" cy="22.6" r="0.95" fill="#b0b0b0" stroke="#333" stroke-width="0.4"/>
<circle cx="116.0" cy="22.6" r="0.95" fill="#b0b0b0" stroke="#333" stroke-width="0.4"/>
<circle cx="130.4" cy="22.6" r="0.95" fill="#b0b0b0" stroke="#333" stroke-width="0.4"/>
<circle cx="150.6" cy="36.4" r="0.95" fill="#b0b0b0" stroke="#333" stroke-width="0.4"/>
<circle cx="130.4" cy="47.6" r="0.95" fill="#b0b0b0" stroke="#333" stroke-width="0.4"/>
<circle cx="150.6" cy="38.6" r="0.95" fill="#b0b0b0" stroke="#333" stroke-width="0.4"/>
<circle cx="145.4" cy="67.6" r="0.95" fill="#b0b0b0" stroke="#333" stroke-width="0.4"/>
<circle cx="150.6" cy="67.6" r="0.95" fill="#b0b0b0" stroke="#333" stroke-width="0.4"/>
<circle cx="145.4" cy="67.6" r="0.95" fill="#b0b0b0" stroke="#333" stroke-width="0.4"/>
<circle cx="150.6" cy="92.6" r="0.95" fill="#b0b0b0" stroke="#333" stroke-width="0.4"/>
<circle cx="145.4" cy="67.6" r="0.95" fill="#b0b0b0" stroke="#333" stroke-width="0.4"/>
<circle cx="150.6" cy="117.6" r="0.95" fill="#b0b0b0" stroke="#333" stroke-width="0.4"/>
<circle cx="165.0" cy="37.6" r="0.95" fill="#b0b0b0" stroke="#333" stroke-width="0.4"/>
<circle cx="175.6" cy="52.0" r="0.95" fill="#b0b0b0" stroke="#333" stroke-width="0.4"/>
<circle cx="165.0" cy="67.6" r="0.95" fill="#b0b0b0" stroke="#333" stroke-width="0.4"/>
<circle cx="175.6" cy="54.6" r="0.95" fill="#b0b0b0" stroke="#333" stroke-width="0.4"/>
<circle cx="190.0" cy="53.0" r="0.95" fill="#b0b0b0" stroke="#333" stroke-width="0.4"/>
<circle cx="200.4" cy="71.0" r="0.95" fill="#b0b0b0" stroke="#333" stroke-width="0.4"/>
<circle cx="165.0" cy="92.6" r="0.95" fill="#b0b0b0" stroke="#333" stroke-width="0.4"/>
<circle cx="200.4" cy="73.6" r="0.95" fill="#b0b0b0" stroke="#333" stroke-width="0.4"/>
<circle cx="214.8" cy="72.6" r="0.95" fill="#b0b0b0" stroke="#333" stroke-width="0.4"/>
<circle cx="223.4" cy="90.0" r="0.95" fill="#b0b0b0" stroke="#333" stroke-width="0.4"/>
<circle cx="190.0" cy="127.6" r="0.95" fill="#b0b0b0" stroke="#333" stroke-width="0.4"/>
<circle cx="223.4" cy="94.0" r="0.95" fill="#b0b0b0" stroke="#333" stroke-width="0.4"/>
<circle cx="165.0" cy="117.6" r="0.95" fill="#b0b0b0" stroke="#333" stroke-width="0.4"/>
<circle cx="175.6" cy="125.0" r="0.95" fill="#b0b0b0" stroke="#333" stroke-width="0.4"/>
<circle cx="165.0" cy="137.6" r="0.95" fill="#b0b0b0" stroke="#333" stroke-width="0.4"/>
<circle cx="175.6" cy="130.0" r="0.95" fill="#b0b0b0" stroke="#333" stroke-width="0.4"/>
<circle cx="238.0" cy="92.6" r="0.95" fill="#b0b0b0" stroke="#333" stroke-width="0.4"/>
<circle cx="250.6" cy="125.0" r="0.95" fill="#b0b0b0" stroke="#333" stroke-width="0.4"/>
<circle cx="250.6" cy="130.0" r="0.95" fill="#b0b0b0" stroke="#333" stroke-width="0.4"/>
<circle cx="250.6" cy="127.5" r="0.95" fill="#b0b0b0" stroke="#333" stroke-width="0.4"/>
<circle cx="265.0" cy="127.6" r="0.95" fill="#b0b0b0" stroke="#333" stroke-width="0.4"/>
<circle cx="270.0" cy="127.6" r="0.95" fill="#b0b0b0" stroke="#333" stroke-width="0.4"/>
<circle cx="284.4" cy="127.6" r="0.95" fill="#b0b0b0" stroke="#333" stroke-width="0.4"/>
<circle cx="290.0" cy="127.6" r="0.95" fill="#b0b0b0" stroke="#333" stroke-width="0.4"/>
<circle cx="304.4" cy="127.6" r="0.95" fill="#b0b0b0" stroke="#333" stroke-width="0.4"/>
<circle cx="315.4" cy="127.6" r="0.95" fill="#b0b0b0" stroke="#333" stroke-width="0.4"/>
<circle cx="47.8" cy="221.8" r="0.95" fill="#b0b0b0" stroke="#333" stroke-width="0.4"/>
<circle cx="73.2" cy="229.8" r="0.95" fill="#b0b0b0" stroke="#333" stroke-width="0.4"/>
<circle cx="47.8" cy="241.8" r="0.95" fill="#b0b0b0" stroke="#333" stroke-width="0.4"/>
<circle cx="53.6" cy="241.8" r="0.95" fill="#b0b0b0" stroke="#333" stroke-width="0.4"/>
<circle cx="68.0" cy="241.8" r="0.95" fill="#b0b0b0" stroke="#333" stroke-width="0.4"/>
<circle cx="73.2" cy="233.0" r="0.95" fill="#b0b0b0" stroke="#333" stroke-width="0.4"/>
<circle cx="87.6" cy="232.0" r="0.95" fill="#b0b0b0" stroke="#333" stroke-width="0.4"/>
<circle cx="106.0" cy="232.0" r="0.95" fill="#b0b0b0" stroke="#333" stroke-width="0.4"/>
<circle cx="75.4" cy="206.6" r="0.95" fill="#b0b0b0" stroke="#333" stroke-width="0.4"/>
<circle cx="81.0" cy="206.6" r="0.95" fill="#b0b0b0" stroke="#333" stroke-width="0.4"/>
<circle cx="95.4" cy="206.6" r="0.95" fill="#b0b0b0" stroke="#333" stroke-width="0.4"/>
<circle cx="101.0" cy="206.6" r="0.95" fill="#b0b0b0" stroke="#333" stroke-width="0.4"/>
<circle cx="115.4" cy="206.6" r="0.95" fill="#b0b0b0" stroke="#333" stroke-width="0.4"/>
<circle cx="140.6" cy="221.0" r="0.95" fill="#b0b0b0" stroke="#333" stroke-width="0.4"/>
<circle cx="120.4" cy="232.0" r="0.95" fill="#b0b0b0" stroke="#333" stroke-width="0.4"/>
<circle cx="140.6" cy="223.0" r="0.95" fill="#b0b0b0" stroke="#333" stroke-width="0.4"/>
<circle cx="155.0" cy="222.0" r="0.95" fill="#b0b0b0" stroke="#333" stroke-width="0.4"/>
<circle cx="160.6" cy="222.0" r="0.95" fill="#b0b0b0" stroke="#333" stroke-width="0.4"/>
<circle cx="175.0" cy="222.0" r="0.95" fill="#b0b0b0" stroke="#333" stroke-width="0.4"/>
<circle cx="207.4" cy="264.5" r="0.95" fill="#b0b0b0" stroke="#333" stroke-width="0.4"/>
<circle cx="130.4" cy="256.6" r="0.95" fill="#b0b0b0" stroke="#333" stroke-width="0.4"/>
<circle cx="135.6" cy="256.6" r="0.95" fill="#b0b0b0" stroke="#333" stroke-width="0.4"/>
<circle cx="150.0" cy="256.6" r="0.95" fill="#b0b0b0" stroke="#333" stroke-width="0.4"/>
<circle cx="160.6" cy="265.0" r="0.95" fill="#b0b0b0" stroke="#333" stroke-width="0.4"/>
<circle cx="155.0" cy="289.0" r="0.95" fill="#b0b0b0" stroke="#333" stroke-width="0.4"/>
<circle cx="160.6" cy="268.5" r="0.95" fill="#b0b0b0" stroke="#333" stroke-width="0.4"/>
<circle cx="175.0" cy="266.8" r="0.95" fill="#b0b0b0" stroke="#333" stroke-width="0.4"/>
<circle cx="180.6" cy="266.8" r="0.95" fill="#b0b0b0" stroke="#333" stroke-width="0.4"/>
<circle cx="195.0" cy="266.8" r="0.95" fill="#b0b0b0" stroke="#333" stroke-width="0.4"/>
<circle cx="207.4" cy="266.8" r="0.95" fill="#b0b0b0" stroke="#333" stroke-width="0.4"/>
<circle cx="221.8" cy="266.8" r="0.95" fill="#b0b0b0" stroke="#333" stroke-width="0.4"/>
<circle cx="225.4" cy="266.8" r="0.95" fill="#b0b0b0" stroke="#333" stroke-width="0.4"/>
<circle cx="239.8" cy="266.8" r="0.95" fill="#b0b0b0" stroke="#333" stroke-width="0.4"/>
<circle cx="245.4" cy="266.8" r="0.95" fill="#b0b0b0" stroke="#333" stroke-width="0.4"/>
<circle cx="259.8" cy="266.8" r="0.95" fill="#b0b0b0" stroke="#333" stroke-width="0.4"/>
<circle cx="305.4" cy="266.8" r="0.95" fill="#b0b0b0" stroke="#333" stroke-width="0.4"/>
<circle cx="125.4" cy="346.6" r="0.95" fill="#b0b0b0" stroke="#333" stroke-width="0.4"/>
<circle cx="150.6" cy="355.2" r="0.95" fill="#b0b0b0" stroke="#333" stroke-width="0.4"/>
<circle cx="125.4" cy="366.4" r="0.95" fill="#b0b0b0" stroke="#333" stroke-width="0.4"/>
<circle cx="131.0" cy="366.4" r="0.95" fill="#b0b0b0" stroke="#333" stroke-width="0.4"/>
<circle cx="145.4" cy="366.4" r="0.95" fill="#b0b0b0" stroke="#333" stroke-width="0.4"/>
<circle cx="150.6" cy="358.0" r="0.95" fill="#b0b0b0" stroke="#333" stroke-width="0.4"/>
<circle cx="165.0" cy="356.0" r="0.95" fill="#b0b0b0" stroke="#333" stroke-width="0.4"/>
<circle cx="170.6" cy="356.4" r="0.95" fill="#b0b0b0" stroke="#333" stroke-width="0.4"/>
<circle cx="165.0" cy="356.0" r="0.95" fill="#b0b0b0" stroke="#333" stroke-width="0.4"/>
<circle cx="170.6" cy="379.0" r="0.95" fill="#b0b0b0" stroke="#333" stroke-width="0.4"/>
<circle cx="185.0" cy="331.4" r="0.95" fill="#b0b0b0" stroke="#333" stroke-width="0.4"/>
<circle cx="200.6" cy="340.2" r="0.95" fill="#b0b0b0" stroke="#333" stroke-width="0.4"/>
<circle cx="185.0" cy="356.4" r="0.95" fill="#b0b0b0" stroke="#333" stroke-width="0.4"/>
<circle cx="200.6" cy="342.2" r="0.95" fill="#b0b0b0" stroke="#333" stroke-width="0.4"/>
<circle cx="215.0" cy="341.4" r="0.95" fill="#b0b0b0" stroke="#333" stroke-width="0.4"/>
<circle cx="224.6" cy="350.2" r="0.95" fill="#b0b0b0" stroke="#333" stroke-width="0.4"/>
<circle cx="185.0" cy="379.0" r="0.95" fill="#b0b0b0" stroke="#333" stroke-width="0.4"/>
<circle cx="224.6" cy="352.4" r="0.95" fill="#b0b0b0" stroke="#333" stroke-width="0.4"/>
<circle cx="239.0" cy="351.4" r="0.95" fill="#b0b0b0" stroke="#333" stroke-width="0.4"/>
<circle cx="245.0" cy="351.4" r="0.95" fill="#b0b0b0" stroke="#333" stroke-width="0.4"/>
<circle cx="259.4" cy="351.4" r="0.95" fill="#b0b0b0" stroke="#333" stroke-width="0.4"/>
<circle cx="270.0" cy="346.4" r="0.95" fill="#b0b0b0" stroke="#333" stroke-width="0.4"/>
<circle cx="259.4" cy="351.4" r="0.95" fill="#b0b0b0" stroke="#333" stroke-width="0.4"/>
<circle cx="265.0" cy="376.4" r="0.95" fill="#b0b0b0" stroke="#333" stroke-width="0.4"/>
<circle cx="284.4" cy="346.4" r="0.95" fill="#b0b0b0" stroke="#333" stroke-width="0.4"/>
<circle cx="290.0" cy="346.4" r="0.95" fill="#b0b0b0" stroke="#333" stroke-width="0.4"/>
<circle cx="279.4" cy="376.4" r="0.95" fill="#b0b0b0" stroke="#333" stroke-width="0.4"/>
<circle cx="285.0" cy="376.4" r="0.95" fill="#b0b0b0" stroke="#333" stroke-width="0.4"/>
<circle cx="304.4" cy="346.4" r="0.95" fill="#f0a030" stroke="#333" stroke-width="0.4"/>
<circle cx="310.0" cy="354.0" r="0.95" fill="#f0a030" stroke="#333" stroke-width="0.4"/>
<circle cx="299.4" cy="376.4" r="0.95" fill="#f0a030" stroke="#333" stroke-width="0.4"/>
<circle cx="310.0" cy="357.0" r="0.95" fill="#f0a030" stroke="#333" stroke-width="0.4"/>
<circle cx="319.6" cy="266.8" r="0.95" fill="#f0a030" stroke="#333" stroke-width="0.4"/>
<circle cx="349.8" cy="308.8" r="0.95" fill="#f0a030" stroke="#333" stroke-width="0.4"/>
<circle cx="403.8" cy="204.6" r="0.95" fill="#f0a030" stroke="#333" stroke-width="0.4"/>
<circle cx="410.0" cy="204.6" r="0.95" fill="#f0a030" stroke="#333" stroke-width="0.4"/>
<circle cx="405.8" cy="232.0" r="0.95" fill="#b0b0b0" stroke="#333" stroke-width="0.4"/>
<circle cx="411.6" cy="232.0" r="0.95" fill="#b0b0b0" stroke="#333" stroke-width="0.4"/>
<circle cx="405.8" cy="252.0" r="0.95" fill="#b0b0b0" stroke="#333" stroke-width="0.4"/>
<circle cx="411.6" cy="252.0" r="0.95" fill="#b0b0b0" stroke="#333" stroke-width="0.4"/>
<circle cx="455.8" cy="237.0" r="0.95" fill="#b0b0b0" stroke="#333" stroke-width="0.4"/>
<circle cx="459.6" cy="237.0" r="0.95" fill="#b0b0b0" stroke="#333" stroke-width="0.4"/>
<circle cx="426.0" cy="232.0" r="0.95" fill="#b0b0b0" stroke="#333" stroke-width="0.4"/>
<circle cx="441.6" cy="234.5" r="0.95" fill="#b0b0b0" stroke="#333" stroke-width="0.4"/>
<circle cx="426.0" cy="252.0" r="0.95" fill="#b0b0b0" stroke="#333" stroke-width="0.4"/>
<circle cx="441.6" cy="238.5" r="0.95" fill="#b0b0b0" stroke="#333" stroke-width="0.4"/>
<circle cx="474.0" cy="237.0" r="0.95" fill="#b0b0b0" stroke="#333" stroke-width="0.4"/>
<circle cx="479.4" cy="209.4" r="0.95" fill="#b0b0b0" stroke="#333" stroke-width="0.4"/>
<circle cx="508.4" cy="172.0" r="0.95" fill="#b0b0b0" stroke="#333" stroke-width="0.4"/>
<circle cx="514.0" cy="172.0" r="0.95" fill="#b0b0b0" stroke="#333" stroke-width="0.4"/>
<circle cx="528.4" cy="172.0" r="0.95" fill="#b0b0b0" stroke="#333" stroke-width="0.4"/>
<circle cx="539.0" cy="172.0" r="0.95" fill="#b0b0b0" stroke="#333" stroke-width="0.4"/>
<circle cx="493.8" cy="207.0" r="0.95" fill="#f0a030" stroke="#333" stroke-width="0.4"/>
<circle cx="504.0" cy="197.0" r="0.95" fill="#f0a030" stroke="#333" stroke-width="0.4"/>
<circle cx="493.8" cy="207.0" r="0.95" fill="#f0a030" stroke="#333" stroke-width="0.4"/>
<circle cx="504.0" cy="227.0" r="0.95" fill="#f0a030" stroke="#333" stroke-width="0.4"/>
<circle cx="518.4" cy="197.0" r="0.95" fill="#f0a030" stroke="#333" stroke-width="0.4"/>
<circle cx="534.0" cy="205.6" r="0.95" fill="#f0a030" stroke="#333" stroke-width="0.4"/>
<circle cx="518.4" cy="227.0" r="0.95" fill="#f0a030" stroke="#333" stroke-width="0.4"/>
<circle cx="534.0" cy="207.6" r="0.95" fill="#f0a030" stroke="#333" stroke-width="0.4"/>
<circle cx="548.4" cy="206.8" r="0.95" fill="#f0a030" stroke="#333" stroke-width="0.4"/>
<circle cx="559.0" cy="193.6" r="0.95" fill="#f0a030" stroke="#333" stroke-width="0.4"/>
<circle cx="97.6" cy="48.0" r="0.95" fill="#b0b0b0" stroke="#333" stroke-width="0.4"/>
<circle cx="150.6" cy="137.6" r="0.95" fill="#b0b0b0" stroke="#333" stroke-width="0.4"/>
<circle cx="148.6" cy="162.0" r="0.95" fill="#b0b0b0" stroke="#333" stroke-width="0.4"/>
<circle cx="163.0" cy="162.3" r="0.95" fill="#b0b0b0" stroke="#333" stroke-width="0.4"/>
<circle cx="304.4" cy="127.6" r="0.95" fill="#b0b0b0" stroke="#333" stroke-width="0.4"/>
<circle cx="390.0" cy="207.6" r="0.95" fill="#b0b0b0" stroke="#333" stroke-width="0.4"/>
<circle cx="140.6" cy="289.6" r="0.95" fill="#b0b0b0" stroke="#333" stroke-width="0.4"/>
<circle cx="170.6" cy="331.4" r="0.95" fill="#b0b0b0" stroke="#333" stroke-width="0.4"/>
<circle cx="259.8" cy="266.8" r="0.95" fill="#b0b0b0" stroke="#333" stroke-width="0.4"/>
<circle cx="349.8" cy="314.6" r="0.95" fill="#b0b0b0" stroke="#333" stroke-width="0.4"/>
<circle cx="284.4" cy="346.4" r="0.95" fill="#b0b0b0" stroke="#333" stroke-width="0.4"/>
<circle cx="310.0" cy="359.6" r="0.95" fill="#b0b0b0" stroke="#333" stroke-width="0.4"/>
<circle cx="553.4" cy="172.0" r="0.95" fill="#b0b0b0" stroke="#333" stroke-width="0.4"/>
<circle cx="559.0" cy="190.8" r="0.95" fill="#b0b0b0" stroke="#333" stroke-width="0.4"/>
<circle cx="240.0" cy="267.0" r="0.95" fill="#b0b0b0" stroke="#333" stroke-width="0.4"/>
<circle cx="329.6" cy="127.6" r="0.95" fill="#f0a030" stroke="#333" stroke-width="0.4"/>
<circle cx="390.0" cy="201.6" r="0.95" fill="#f0a030" stroke="#333" stroke-width="0.4"/>
<circle cx="390.0" cy="210.6" r="0.95" fill="#f0a030" stroke="#333" stroke-width="0.4"/>
<circle cx="364.0" cy="311.6" r="0.95" fill="#f0a030" stroke="#333" stroke-width="0.4"/>
<circle cx="324.2" cy="356.0" r="0.95" fill="#f0a030" stroke="#333" stroke-width="0.4"/>
<circle cx="349.8" cy="309.3" r="0.95" fill="#f0a030" stroke="#333" stroke-width="0.4"/>
<circle cx="424.4" cy="204.5" r="0.95" fill="#f0a030" stroke="#333" stroke-width="0.4"/>
<circle cx="479.4" cy="204.2" r="0.95" fill="#f0a030" stroke="#333" stroke-width="0.4"/>
<circle cx="391.8" cy="232.4" r="0.95" fill="#f0a030" stroke="#333" stroke-width="0.4"/>
<circle cx="573.4" cy="192.0" r="0.95" fill="#f0a030" stroke="#333" stroke-width="0.4"/>
</svg>
</body></html>
